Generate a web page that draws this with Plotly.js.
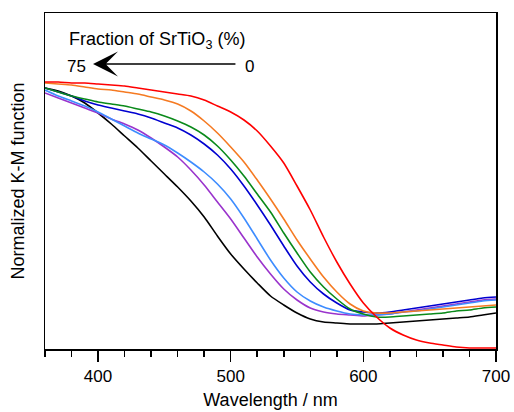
<!DOCTYPE html>
<html>
<head>
<meta charset="utf-8">
<script src="https://cdn.plot.ly/plotly-3.0.1.min.js"></script>
<style>html,body{margin:0;padding:0;background:#fff;}#chart{width:514px;height:412px;}</style>
</head>
<body>
<div id="chart"></div>
<script>
// Wavelength (nm) and normalized K-M function (arbitrary units, full scale = 336)
const wavelength = [360,370,380,390,400,410,420,430,440,450,460,470,480,490,500,510,520,530,540,550,560,570,580,590,600,610,620,630,640,650,660,670,680,690,700];
const frac0  = [267,267,266,266,265,264,263,261,259,257,255,253,249,243,237,229,218,203,186,163,139,112,87,65,46,32,21,14,9,6,4,2,1,1,1];
const fracA  = [266,265,264,262,260,259,257,255,252,249,245,238,228,216,202,187,169,150,130,109,90,72,57,45,38,36,36,37,38,39,40,41,42,43,44];
const fracB  = [261,257,253,250,247,245,243,240,237,233,228,222,214,203,189,173,155,137,116,96,77,62,50,40,35,32,32,33,34,35,36,38,39,41,42];
const fracC  = [261,257,253,248,244,241,238,235,231,226,221,214,205,194,180,163,144,124,103,83,67,55,46,39,37,36,37,39,41,43,45,47,49,51,52];
const fracD  = [259,253,248,243,237,230,223,216,210,204,196,187,177,165,150,131,110,89,71,57,48,42,38,35,34,34,35,37,38,40,42,44,46,48,49];
const fracE  = [256,251,246,241,236,230,225,219,211,202,192,179,164,147,130,111,92,75,60,49,41,37,35,34,33,34,35,37,39,41,43,45,47,49,50];
const frac75 = [261,258,253,246,236,225,213,201,188,175,162,148,132,113,95,80,66,53,44,36,30,27,26,25,25,25,26,27,28,29,30,31,32,34,36];

const series = [
  {y: frac0,  color: '#FF0000'},
  {y: fracA,  color: '#F57A22'},
  {y: fracB,  color: '#0A8A1A'},
  {y: fracC,  color: '#0000D0'},
  {y: fracD,  color: '#3D8CFF'},
  {y: fracE,  color: '#9A33CC'},
  {y: frac75, color: '#000000'}
];

const traces = series.slice().reverse().map(s => ({
  x: wavelength, y: s.y, type: 'scatter', mode: 'lines',
  line: {color: s.color, width: 1.6, shape: 'spline', smoothing: 0.7},
  showlegend: false, hoverinfo: 'skip'
}));

const fam = 'Liberation Sans, Arial, sans-serif';
const fontTick = {family: fam, size: 17, color: '#000'};
const fontTitle = {family: fam, size: 18, color: '#000'};

const layout = {
  width: 514, height: 412,
  margin: {l: 45, r: 18, t: 13, b: 63},
  paper_bgcolor: '#fff', plot_bgcolor: '#fff',
  font: fontTick,
  showlegend: false,
  xaxis: {
    range: [360, 700], tick0: 400, dtick: 100,
    ticks: 'outside', ticklen: 11, tickwidth: 1.5, tickcolor: '#000',
    minor: {dtick: 20, tick0: 360, ticks: 'outside', ticklen: 6, tickwidth: 1.5, tickcolor: '#000'},
    showline: true, linecolor: '#000', linewidth: 1.5, mirror: true,
    showgrid: false, zeroline: false,
    tickfont: fontTick,
    title: {text: 'Wavelength / nm', font: fontTitle, standoff: 8},
    automargin: false
  },
  yaxis: {
    range: [0, 336],
    ticks: '', showticklabels: false,
    showline: true, linecolor: '#000', linewidth: 1.5, mirror: true,
    showgrid: false, zeroline: false,
    title: {text: 'Normalized K-M function', font: fontTitle, standoff: 14},
    automargin: false
  },
  annotations: [
    {x: 0.0488, y: 309, xref: 'paper', yref: 'y', xanchor: 'left', yanchor: 'middle',
     text: 'Fraction of SrTiO<sub>3</sub> (%)', showarrow: false, font: fontTitle},
    {x: 383.7, y: 283, xref: 'x', yref: 'y', xanchor: 'center', yanchor: 'middle',
     text: '75', showarrow: false, font: fontTick},
    {x: 513.8, y: 283, xref: 'x', yref: 'y', xanchor: 'center', yanchor: 'middle',
     text: '0', showarrow: false, font: fontTick},
    {x: 396.2, y: 285, ax: 504.7, ay: 285, xref: 'x', yref: 'y', axref: 'x', ayref: 'y',
     text: '', showarrow: true, arrowhead: 3, arrowsize: 3.2, arrowwidth: 1.3, arrowcolor: '#000'}
  ]
};

Plotly.newPlot('chart', traces, layout, {staticPlot: true, displayModeBar: false});
</script>
</body>
</html>
